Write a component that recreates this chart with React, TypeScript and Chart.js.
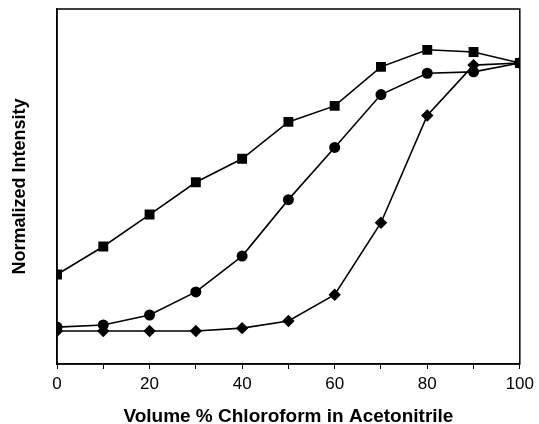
import React, { useEffect, useRef } from "react";
import { Chart, registerables } from "chart.js";

Chart.register(...registerables);

const xValues = [0, 10, 20, 30, 40, 50, 60, 70, 80, 90, 100];
const squareSeries = [0.252, 0.331, 0.421, 0.512, 0.578, 0.682, 0.727, 0.837, 0.885, 0.879, 0.848];
const circleSeries = [0.104, 0.11, 0.138, 0.203, 0.304, 0.463, 0.61, 0.759, 0.819, 0.823, 0.848];
const diamondSeries = [0.093, 0.093, 0.093, 0.093, 0.101, 0.121, 0.195, 0.398, 0.7, 0.842, 0.848];
const xTitle = "Volume % Chloroform in Acetonitrile";
const yTitle = "Normalized Intensity";

const FONT = "'Liberation Sans', Arial, sans-serif";

const framePlugin = {
  id: "frame",
  afterDatasetsDraw(chart: any) {
    const { ctx, chartArea } = chart;
    ctx.save();
    ctx.strokeStyle = "#000";
    ctx.lineWidth = 1.5;
    ctx.strokeRect(chartArea.left, chartArea.top, chartArea.right - chartArea.left, chartArea.bottom - chartArea.top);
    ctx.restore();
  },
};

export default function App() {
  const ref = useRef<HTMLCanvasElement | null>(null);
  useEffect(() => {
    if (!ref.current) return;
    const mk = (data: number[], style: string, r: number) => ({
      data: xValues.map((x, i) => ({ x, y: data[i] })),
      borderColor: "#000",
      backgroundColor: "#000",
      borderWidth: 1.6,
      pointStyle: style,
      pointRadius: r,
      pointBorderWidth: 0,
      pointBackgroundColor: "#000",
      tension: 0,
    });
    const chart = new Chart(ref.current, {
      type: "line",
      data: {
        datasets: [
          mk(squareSeries, "rect", 7),
          mk(circleSeries, "circle", 5.5),
          mk(diamondSeries, "rectRot", 6.2),
        ] as any,
      },
      plugins: [framePlugin],
      options: {
        animation: false,
        responsive: false,
        devicePixelRatio: 1,
        layout: { padding: { top: 9, right: 17, left: 6, bottom: 0 } },
        plugins: { legend: { display: false }, tooltip: { enabled: false } },
        scales: {
          x: {
            type: "linear",
            min: 0,
            max: 100,
            border: { display: true, color: "#000", width: 1.5 },
            grid: { display: true, drawOnChartArea: false, drawTicks: true, tickLength: 5, color: "#000", lineWidth: 1 },
            ticks: {
              stepSize: 10,
              autoSkip: false,
              maxRotation: 0,
              color: "#000",
              padding: 5,
              font: { family: FONT, size: 17 },
              callback: (v: any) => (Number(v) % 20 === 0 ? String(v) : ""),
            },
            title: {
              display: true,
              text: xTitle,
              color: "#000",
              padding: { top: 0, bottom: 0 },
              font: { family: FONT, size: 19, weight: "bold", lineHeight: 0.8 },
            },
            afterFit: (s: any) => {
              s.height = 60;
            },
          },
          y: {
            type: "linear",
            min: 0,
            max: 1,
            border: { display: true, color: "#000", width: 1.5 },
            grid: { display: false },
            ticks: { display: false },
            title: {
              display: true,
              text: yTitle,
              color: "#000",
              padding: { top: 3, bottom: 0 },
              font: { family: FONT, size: 18, weight: "bold" },
            },
            afterFit: (s: any) => {
              s.width = 51;
            },
          },
        },
      } as any,
    });
    return () => chart.destroy();
  }, []);
  return (
    <div style={{ position: "fixed", left: 0, top: 0, width: 539, height: 424, background: "#fff" }}>
      <canvas ref={ref} width={539} height={424} style={{ width: 539, height: 424, display: "block" }} />
    </div>
  );
}
